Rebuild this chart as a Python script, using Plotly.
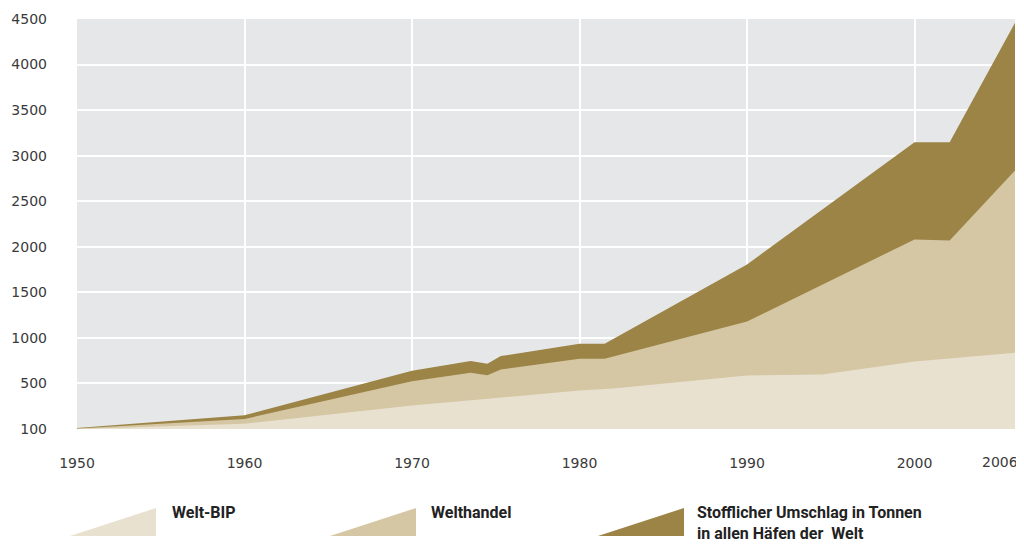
import plotly.graph_objects as go

# Data (index values; axis units)
years_hafen = [1950, 1960, 1970, 1973.5, 1974.5, 1975.3, 1980, 1981.5, 1990, 2000, 2002.1, 2006]
hafen = [10, 150, 640, 745, 715, 800, 935, 935, 1805, 3148, 3148, 4458]

years_handel = [1950, 1960, 1970, 1973.5, 1974.5, 1975.3, 1980, 1981.5, 1990, 2000, 2002.1, 2006]
handel = [5, 110, 525, 617, 590, 653, 770, 770, 1180, 2080, 2070, 2837]

years_bip = [1950, 1960, 1970, 1980, 1982, 1990, 1994.5, 2000, 2006]
bip = [0, 57, 258, 423, 445, 587, 598, 740, 836]

y_tickvals = [0, 500, 1000, 1500, 2000, 2500, 3000, 3500, 4000, 4500]
y_ticktext = ["100", "500", "1000", "1500", "2000", "2500", "3000", "3500", "4000", "4500"]
x_tickvals = [1950, 1960, 1970, 1980, 1990, 2000, 2006]
x_ticktext = ["1950", "1960", "1970", "1980", "1990", "2000", "2006"]

names = ["Welt-BIP", "Welthandel", "Stofflicher Umschlag in Tonnen<br>in allen Häfen der  Welt"]
colors = ["#e8e1cf", "#d5c7a4", "#9c8446"]

fig = go.Figure()
fig.add_trace(go.Scatter(x=years_hafen, y=hafen, mode="lines", line=dict(width=0, color=colors[2]),
                         fill="tozeroy", fillcolor=colors[2], name=names[2], showlegend=False))
fig.add_trace(go.Scatter(x=years_handel, y=handel, mode="lines", line=dict(width=0, color=colors[1]),
                         fill="tozeroy", fillcolor=colors[1], name=names[1], showlegend=False))
fig.add_trace(go.Scatter(x=years_bip, y=bip, mode="lines", line=dict(width=0, color=colors[0]),
                         fill="tozeroy", fillcolor=colors[0], name=names[0], showlegend=False))

# page body has an 8px margin: figure drawn at (8, 8)
OFF = 8
W, H = 1024 - OFF, 545 - OFF
# plot area in screen pixels
SX0, SX1, SY0, SY1 = 77, 1015, 19, 429
L, R, T, B = SX0 - OFF, W - (SX1 - OFF), SY0 - OFF, H - (SY1 - OFF)
PW, PH = SX1 - SX0, SY1 - SY0

fig.update_layout(
    width=W, height=H,
    margin=dict(l=L, r=R, t=T, b=B),
    paper_bgcolor="white",
    plot_bgcolor="#e6e7e8",
    font=dict(family="DejaVu Sans", size=14, color="#3a3a3a"),
    xaxis=dict(range=[1950, 2006], tickvals=x_tickvals[:-1], ticktext=x_ticktext[:-1],
               showgrid=True, gridcolor="white", gridwidth=1.5, zeroline=False,
               showline=False, ticks="", ticklabelstandoff=24, automargin=False),
    yaxis=dict(range=[0, 4500], tickvals=y_tickvals, ticktext=y_ticktext,
               showgrid=True, gridcolor="white", gridwidth=1.5, zeroline=False,
               showline=False, ticks="", ticklabelstandoff=29, automargin=False),
)


def px(sx):
    return (sx - SX0) / PW


def py(sy):
    return (SY1 - sy) / PH


annotations = []
shapes = []
# last x tick label (at the right edge), shifted left so it stays on the page
annotations.append(dict(xref="x", yref="paper", x=x_tickvals[-1], y=py(462), xanchor="center",
                        yanchor="middle", xshift=-15, showarrow=False, text=x_ticktext[-1],
                        font=dict(family="DejaVu Sans", size=14, color="#3a3a3a")))

# Custom legend: right-angled triangles + bold labels
legend_x = [70, 330, 598]
text_x = [170, 429, 695]
for i in range(3):
    x0 = px(legend_x[i])
    x1 = px(legend_x[i] + 86)
    yb = py(536)
    yt = py(508)
    shapes.append(dict(type="path", xref="paper", yref="paper",
                       path=f"M {x0} {yb} L {x1} {yb} L {x1} {yt} Z",
                       fillcolor=colors[i], line=dict(width=0)))
    annotations.append(dict(xref="paper", yref="paper", x=px(text_x[i]), y=py(501),
                            xanchor="left", yanchor="top", showarrow=False, align="left",
                            text=f"<b>{names[i]}</b>",
                            font=dict(family="Roboto, sans-serif", size=16, color="#222222")))
fig.update_layout(shapes=shapes, annotations=annotations)

fig.write_html("out.html")
